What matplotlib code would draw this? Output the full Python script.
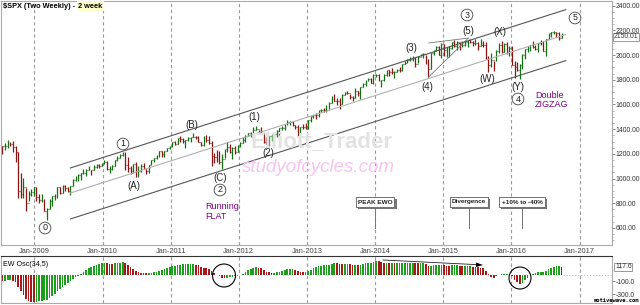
import matplotlib
matplotlib.use("Agg")
import matplotlib.pyplot as plt
import matplotlib.dates as mdates
import matplotlib.patheffects as pe
from matplotlib.patches import Ellipse
import numpy as np
import pandas as pd

W, H = 640, 305
plt.rcParams['font.family'] = ['Liberation Sans', 'DejaVu Sans']

# two-weekly $SPX bars (close / high / low)
close_2008 = [1262, 1260, 1260, 1298, 1283, 1252, 1213, 899, 877, 930, 800, 876, 888]
high_2008 = [1320, 1263, 1290, 1313, 1300, 1303, 1265, 1215, 1044, 1007, 920, 900, 918]
low_2008 = [1252, 1200, 1235, 1247, 1263, 1217, 1133, 840, 845, 845, 741, 815, 857]

close_2009 = [932, 851, 826, 827, 735, 756, 816, 857, 866, 929, 887, 940, 921, 896, 940, 987,
              1004, 1028, 1042, 1044, 1071, 1079, 1069, 1091, 1106, 1102]
high_2009 = [935, 935, 877, 875, 835, 758, 832, 857, 875, 930, 930, 951, 947, 930, 943, 997,
             1018, 1039, 1049, 1080, 1076, 1101, 1070, 1113, 1119, 1117]
low_2009 = [857, 818, 804, 812, 734, 667, 750, 780, 826, 846, 878, 880, 900, 888, 869, 940,
            980, 978, 992, 1040, 1020, 1067, 1029, 1069, 1085, 1086]

close_2010 = [1115, 1136, 1074, 1075, 1105, 1150, 1167, 1194, 1217, 1111, 1088, 1065, 1117, 1023,
              1065, 1101, 1079, 1065, 1110, 1148, 1166, 1183, 1225, 1199, 1224, 1244, 1258]
high_2010 = [1130, 1150, 1141, 1104, 1112, 1153, 1181, 1195, 1218, 1219, 1173, 1105, 1120, 1131,
             1099, 1115, 1130, 1081, 1113, 1149, 1168, 1189, 1227, 1227, 1225, 1246, 1263]
low_2010 = [1102, 1114, 1071, 1045, 1073, 1105, 1145, 1167, 1181, 1066, 1056, 1040, 1042, 1011,
            1010, 1057, 1076, 1040, 1049, 1107, 1132, 1159, 1171, 1173, 1175, 1220, 1242]

close_2011 = [1293, 1276, 1329, 1320, 1304, 1314, 1328, 1337, 1340, 1333, 1300, 1272, 1340, 1316,
              1292, 1179, 1177, 1154, 1136, 1155, 1238, 1253, 1216, 1244, 1219, 1258]
high_2011 = [1294, 1302, 1330, 1344, 1332, 1315, 1339, 1337, 1371, 1346, 1346, 1298, 1341, 1356,
             1347, 1307, 1208, 1230, 1220, 1196, 1238, 1293, 1277, 1255, 1267, 1270]
low_2011 = [1257, 1275, 1276, 1294, 1291, 1249, 1305, 1294, 1333, 1318, 1296, 1262, 1262, 1295,
            1282, 1101, 1124, 1136, 1114, 1074, 1168, 1215, 1209, 1158, 1202, 1213]

close_2012 = [1289, 1316, 1343, 1366, 1371, 1397, 1398, 1378, 1369, 1295, 1278, 1343, 1362, 1357,
              1386, 1406, 1411, 1438, 1461, 1461, 1433, 1414, 1360, 1416, 1414, 1402]
high_2012 = [1297, 1333, 1354, 1368, 1378, 1414, 1422, 1392, 1415, 1370, 1334, 1344, 1363, 1374,
             1390, 1406, 1426, 1438, 1475, 1470, 1465, 1433, 1434, 1419, 1438, 1448]
low_2012 = [1259, 1290, 1300, 1341, 1340, 1370, 1392, 1357, 1367, 1292, 1277, 1266, 1306, 1325,
            1337, 1354, 1397, 1396, 1433, 1430, 1426, 1403, 1343, 1363, 1398, 1398]

close_2013 = [1472, 1503, 1518, 1516, 1552, 1557, 1553, 1555, 1614, 1667, 1631, 1626, 1606, 1680,
              1692, 1691, 1664, 1655, 1710, 1691, 1745, 1762, 1798, 1806, 1775, 1841]
high_2013 = [1473, 1503, 1518, 1530, 1552, 1564, 1574, 1597, 1618, 1667, 1687, 1649, 1654, 1687,
             1698, 1709, 1688, 1670, 1730, 1712, 1745, 1775, 1799, 1813, 1811, 1844]
low_2013 = [1402, 1461, 1492, 1485, 1497, 1538, 1539, 1537, 1562, 1613, 1629, 1598, 1560, 1604,
            1674, 1682, 1647, 1628, 1656, 1672, 1646, 1741, 1746, 1789, 1772, 1768]

close_2014 = [1842, 1790, 1797, 1836, 1878, 1866, 1865, 1865, 1881, 1878, 1924, 1937, 1961, 1967,
              1978, 1931, 1988, 2007, 2010, 1967, 1886, 2018, 2039, 2068, 2002, 2089]
high_2014 = [1850, 1850, 1798, 1847, 1883, 1883, 1897, 1872, 1891, 1902, 1924, 1956, 1968, 1985,
             1989, 1984, 1994, 2011, 2019, 2000, 1970, 2018, 2041, 2075, 2076, 2094]
low_2014 = [1823, 1790, 1738, 1792, 1834, 1834, 1849, 1814, 1859, 1862, 1868, 1924, 1933, 1952,
            1955, 1904, 1932, 1989, 1978, 1926, 1821, 1885, 2001, 2034, 2002, 1973]

close_2015 = [2044, 2051, 2055, 2110, 2071, 2108, 2067, 2081, 2108, 2122, 2107, 2094, 2101, 2076,
              2079, 2078, 1971, 1921, 1958, 1951, 2033, 2079, 2023, 2090, 2012, 2061]
high_2015 = [2093, 2064, 2072, 2110, 2119, 2114, 2101, 2111, 2125, 2123, 2134, 2115, 2130, 2102,
             2132, 2114, 2102, 1993, 2020, 1953, 2039, 2094, 2116, 2097, 2104, 2077]
low_2015 = [1993, 1988, 1981, 2048, 2066, 2039, 2045, 2064, 2077, 2067, 2099, 2072, 2085, 2044,
            2071, 2067, 1970, 1867, 1903, 1872, 1951, 2020, 2020, 2022, 2011, 1993]

close_2016 = [1922, 1906, 1880, 1918, 1999, 2050, 2073, 2081, 2065, 2047, 2099, 2096, 2037, 2130,
              2175, 2183, 2184, 2180, 2139, 2158]
high_2016 = [2076, 1950, 1947, 1930, 2009, 2052, 2075, 2083, 2111, 2084, 2100, 2120, 2113, 2131,
             2176, 2183, 2194, 2188, 2187, 2175]
low_2016 = [1918, 1812, 1872, 1810, 1891, 1969, 2022, 2034, 2057, 2039, 2025, 2085, 2032, 1992,
            2127, 2148, 2168, 2147, 2120, 2139]

# EW Osc(34,5) histogram values
osc_2008 = [-85, -95, -95, -90, -85, -95, -120, -190, -260, -320, -375, -410, -425]
osc_2009 = [-430, -420, -410, -400, -395, -385, -360, -330, -300, -260, -225, -190, -160, -135,
            -105, -75, -45, -15, 15, 45, 70, 95, 115, 135, 150, 165]
osc_2010 = [175, 180, 175, 165, 160, 170, 178, 185, 190, 175, 150, 115, 85, 55, 35, 25, 22, 20,
            22, 28, 35, 45, 60, 75, 90, 105, 115]
osc_2011 = [125, 135, 145, 150, 155, 155, 155, 155, 158, 150, 140, 120, 105, 95, 85, 50, 20, -5,
            -30, -50, -55, -50, -45, -40, -30, -15]
osc_2012 = [-5, 15, 40, 65, 85, 100, 110, 105, 95, 70, 45, 35, 30, 30, 35, 45, 55, 65, 80, 90,
            90, 75, 55, 45, 40, 40]
osc_2013 = [55, 75, 95, 110, 125, 135, 140, 140, 150, 165, 175, 170, 160, 155, 160, 165, 155, 145,
            145, 140, 145, 155, 170, 180, 185, 195]
osc_2014 = [215, 205, 190, 180, 180, 175, 175, 170, 170, 170, 175, 180, 185, 185, 185, 175, 170,
            175, 175, 160, 130, 130, 140, 150, 150, 150]
osc_2015 = [140, 135, 130, 140, 140, 140, 130, 125, 125, 125, 125, 120, 115, 110, 105, 95, 60, 10,
            -40, -60, -30, -5, 5, 10, 10, 5]
osc_2016 = [-30, -80, -120, -140, -130, -90, -50, -10, 10, 25, 35, 45, 45, 60, 80, 100, 115, 125,
            125, 118]

year_ticks = ['2009', '2010', '2011', '2012', '2013', '2014', '2015', '2016', '2017']

# trend channel anchors (date, price)
channel_dates = ['2009-07-13', '2016-10-18']
channel_upper = [1086, 2368]
channel_mid = [883, 2166]
channel_lower = [673, 1955]
wedge_top_dates = ['2014-10-15', '2015-05-15']
wedge_top = [2098, 2138]
wedge_low_dates = ['2014-10-13', '2015-05-15']
wedge_low = [1821, 2136]

close = np.array(close_2008 + close_2009 + close_2010 + close_2011 + close_2012 + close_2013
                 + close_2014 + close_2015 + close_2016, float)
high = np.array(high_2008 + high_2009 + high_2010 + high_2011 + high_2012 + high_2013
                + high_2014 + high_2015 + high_2016, float)
low = np.array(low_2008 + low_2009 + low_2010 + low_2011 + low_2012 + low_2013
               + low_2014 + low_2015 + low_2016, float)
osc = np.array(osc_2008 + osc_2009 + osc_2010 + osc_2011 + osc_2012 + osc_2013
               + osc_2014 + osc_2015 + osc_2016, float)
opn = np.concatenate([[1318], close[:-1]])

dates = pd.date_range('2008-06-30', periods=len(close), freq='14D')
x = mdates.date2num(dates)

fig = plt.figure(figsize=(W / 100, H / 100), dpi=100)
ax = fig.add_axes([1 / W, 1 - 245 / H, 611 / W, 244 / H])
ax2 = fig.add_axes([1 / W, 1 - 303 / H, 611 / W, 47 / H])

xlim = (mdates.datestr2num('2008-07-06'), mdates.datestr2num('2017-06-23'))
gx = [mdates.datestr2num(y + '-01-01') for y in year_ticks]

# price bars
up = close >= opn
cols = np.where(up, '#127012', '#8a1515')
ax.vlines(x, low, high, colors=cols, lw=0.9)
ax.hlines(close, x, x + 4, colors=cols, lw=0.9)
ax.hlines(opn, x - 4, x, colors=cols, lw=0.9)

cd = mdates.datestr2num(channel_dates)
ax.plot(cd, channel_upper, color='#555555', lw=0.8)
ax.plot(cd, channel_mid, color='#b0b0b0', lw=0.8)
ax.plot(cd, channel_lower, color='#555555', lw=0.8)
ax.plot(mdates.datestr2num(wedge_top_dates), wedge_top, color='#777777', lw=0.6)
ax.plot(mdates.datestr2num(wedge_low_dates), wedge_low, color='#777777', lw=0.6)

for a in (ax, ax2):
    for g in gx:
        a.axvline(g, color='#9a9a9a', lw=0.8, ls=(0, (3, 2.5)), zorder=0)
    a.set_xlim(*xlim)
    for s in a.spines.values():
        s.set_color('#aaaaaa')
        s.set_linewidth(0.8)

ax.set_ylim(462, 2438)
ax.yaxis.tick_right()
ax.set_yticks(np.arange(600, 2401, 200))
ax.set_yticklabels(['%.2f' % v for v in np.arange(600, 2401, 200)])
ax.set_yticks(np.arange(500, 2401, 50), minor=True)
ax.tick_params(axis='y', which='major', length=2, width=0.6, color='#777777', labelsize=4.9,
               labelcolor='#333333', pad=0.8)
ax.tick_params(axis='y', which='minor', length=1.2, width=0.5, color='#999999')
ax.set_xticks(gx)
ax.set_xticklabels(['Jan-' + y for y in year_ticks])
ax.tick_params(axis='x', length=0, labelsize=5.3, labelcolor='#444444', pad=2)

# oscillator
ocols = np.where(np.diff(np.concatenate([[osc[0] + 5], osc])) >= 0, '#1e9e1e', '#a81818')
ax2.bar(x, osc, width=9, color=ocols, lw=0)
ax2.plot([x[-1] + 7, xlim[1]], [0, 0], color='#bbbbbb', lw=0.8, ls=':')
ax2.set_ylim(-438, 285)
ax2.set_xticks([])
ax2.yaxis.tick_right()
ax2.set_yticks([-300, -100])
ax2.set_yticklabels(['-300.0', '-100.0'])
ax2.tick_params(axis='y', length=2, width=0.6, color='#777777', labelsize=4.9,
                labelcolor='#333333', pad=0.8)
ax2.spines['top'].set_color('#333333')


def fx(px):
    return px / W


def fy(py):
    return 1 - py / H


# titles and labels
t1 = fig.text(fx(3), fy(6), '\\$SPX (Two Weekly) - ', fontsize=5.3, fontweight='bold',
              va='center')
fig.canvas.draw()
t1_right = t1.get_window_extent().x1
fig.text(t1_right / W + fx(1), fy(6), '2 week', fontsize=5.3, fontweight='bold', va='center',
         bbox=dict(boxstyle='square,pad=0.2', fc='#ffffcc', ec='none'))
fig.text(fx(3), fy(265), 'EW Osc(34,5)', fontsize=5.1, va='center')
fig.text(fx(614), fy(37), '2150.01', fontsize=4.9, va='center', color='#333333',
         bbox=dict(boxstyle='square,pad=0.12', fc='white', ec='#888888', lw=0.6))
fig.text(fx(615), fy(267), '117.6', fontsize=4.9, va='center', color='#333333',
         bbox=dict(boxstyle='square,pad=0.12', fc='white', ec='#888888', lw=0.6))
fig.text(fx(639), fy(300.5), 'motivewave.com', fontsize=4.0, va='center', ha='right',
         family='DejaVu Sans Mono', fontweight='bold')

fig.text(fx(322), fy(142), 'Elliott_Trader', fontsize=16, color='#e2e2e2', ha='center',
         va='center', fontweight='bold')
fig.text(fx(318), fy(168), 'studyofcycles.com', fontsize=13.5, color='#f7c4f2', ha='center',
         va='center', style='italic')

circled = [('0', 45, 228), ('1', 123, 144), ('2', 220, 190), ('3', 467, 15),
           ('4', 518, 99), ('5', 575, 18)]
for t, px, py in circled:
    fig.text(fx(px), fy(py), t, fontsize=6.5, ha='center', va='center', color='#222222',
             bbox=dict(boxstyle='circle,pad=0.15', fc='white', ec='#444444', lw=0.6))

waves = [('(A)', 134, 186), ('(B)', 192, 125), ('(C)', 220, 178), ('(1)', 254, 117),
         ('(2)', 268, 153), ('(3)', 411, 48), ('(4)', 427, 87), ('(5)', 468, 31),
         ('(W)', 487, 79), ('(X)', 500, 32), ('(Y)', 518, 87)]
for t, px, py in waves:
    fig.text(fx(px), fy(py), t, fontsize=7, ha='center', va='center', color='#222222')

fig.text(fx(205), fy(211.5), 'Running\nFLAT', fontsize=6.5, color='#800080', va='center',
         linespacing=1.05)
fig.text(fx(535), fy(100), 'Double\nZIGZAG', fontsize=6.5, color='#800080', va='center',
         linespacing=1.05)

for t, px in [('PEAK EWO', 375), ('Divergence', 469), ('+10% to -40%', 522)]:
    fig.add_artist(plt.Line2D([fx(px), fx(px)], [fy(207), fy(228)], color='#777777', lw=0.7,
                              transform=fig.transFigure))
    tb = fig.text(fx(px), fy(202), t, fontsize=4.6, ha='center', va='center', fontweight='bold',
                  color='#222222',
                  bbox=dict(boxstyle='square,pad=0.35', fc='white', ec='#666666', lw=0.6))
    tb.get_bbox_patch().set_path_effects([pe.withSimplePatchShadow(offset=(1.5, -1.5),
                                                                   shadow_rgbFace='#666666',
                                                                   alpha=0.9),
                                          pe.Normal()])

# circles on the oscillator
for cx, cy, r in [(224, 275.5, 11.5), (520, 278, 11)]:
    fig.add_artist(Ellipse((fx(cx), fy(cy)), 2 * r / W, 2 * r / H, transform=fig.transFigure,
                           fill=False, ec='black', lw=0.8))

fig.add_artist(plt.Line2D([fx(383), fx(476)], [fy(260), fy(264.6)], color='#222222', lw=0.6,
                          transform=fig.transFigure))
fig.patches.append(plt.Polygon([[fx(476), fy(262.5)], [fx(483), fy(265)], [fx(476), fy(267)]],
                               closed=True, fc='black', ec='none', transform=fig.transFigure,
                               figure=fig))

fig.savefig('out.png', dpi=100)
